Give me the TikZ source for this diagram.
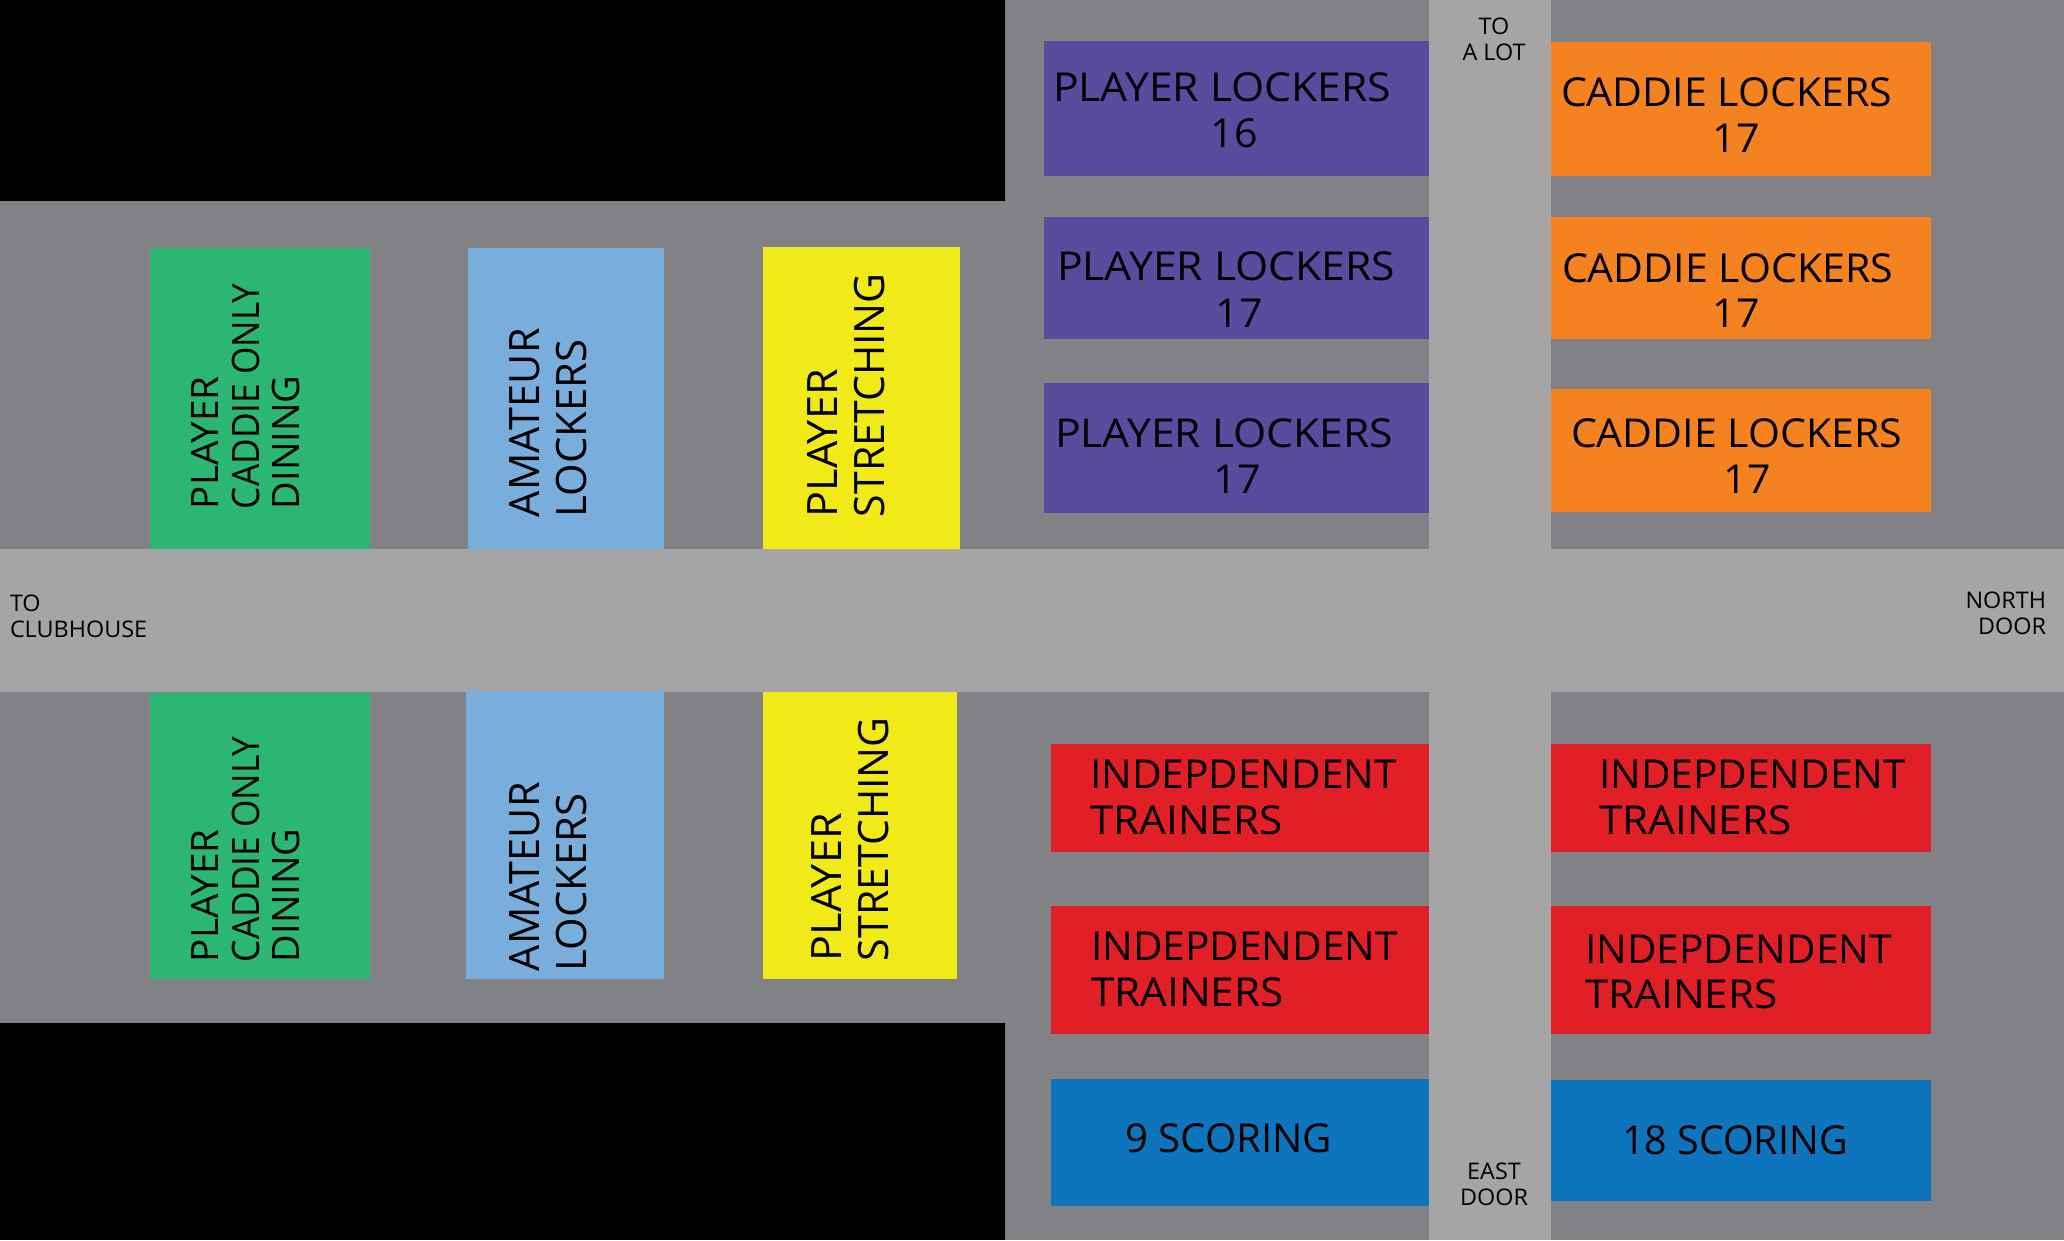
\documentclass[tikz,border=0pt]{standalone}
\usepackage{fontspec}
\setmainfont{Open Sans}
\definecolor{floorgray}{HTML}{808285}
\definecolor{roadgray}{HTML}{A5A5A6}
\definecolor{cpurple}{HTML}{5A4B9F}
\definecolor{corange}{HTML}{F58220}
\definecolor{cred}{HTML}{E01F26}
\definecolor{cblue}{HTML}{0E75BC}
\definecolor{cgreen}{HTML}{2CB673}
\definecolor{clight}{HTML}{79ADDC}
\definecolor{cyellow}{HTML}{F2EA18}
\tikzset{
  lab/.style 2 args={inner sep=0pt,outer sep=0pt,anchor=base west,text=black,
    font=\fontsize{#1}{#1}\selectfont\addfontfeature{FakeStretch=#2}},
  biglabel/.style={lab={40}{#1}},
  bigmid/.style={lab={40}{1.03},anchor=base},
  vgreen/.style={lab={38}{#1},rotate=90},
  vother/.style={lab={42}{#1},rotate=90},
  smalllabel/.style={lab={23}{1.02}},
  smallmid/.style={smalllabel,anchor=base},
  smallright/.style={smalllabel,anchor=base east},
}
\begin{document}
\begin{tikzpicture}[x=1bp,y=-1bp]
\useasboundingbox (0,0) rectangle (2064,1240);
\fill[floorgray] (0,0) rectangle (2064,1240);
\fill[black] (0,0) rectangle (1005,201);
\fill[black] (0,1023) rectangle (1005,1240);
\fill[roadgray] (0,549) rectangle (2064,691.5);
\fill[roadgray] (1429,0) rectangle (1551,1240);
% rooms
\fill[cpurple] (1044,41) rectangle (1429,176);
\fill[cpurple] (1044,217) rectangle (1429,339);
\fill[cpurple] (1044,383) rectangle (1429,512.5);
\fill[corange] (1551,42) rectangle (1931,176);
\fill[corange] (1551,217) rectangle (1931,339);
\fill[corange] (1551,389) rectangle (1931,512);
\fill[cred] (1051,744) rectangle (1429,852);
\fill[cred] (1051,906) rectangle (1429,1034);
\fill[cred] (1551,744) rectangle (1931,852);
\fill[cred] (1551,906) rectangle (1931,1034);
\fill[cblue] (1051,1079) rectangle (1429,1206);
\fill[cblue] (1551,1080) rectangle (1931,1201);
\fill[cgreen] (149.5,248) rectangle (370,549);
\fill[clight] (468,248) rectangle (663.5,549);
\fill[cyellow] (763,247) rectangle (960,549);
\fill[cgreen] (149.5,693) rectangle (370,979);
\fill[clight] (466,691) rectangle (664,979);
\fill[cyellow] (763,692) rectangle (957,979);
% horizontal labels
\node[biglabel=1.07] (p1a) at (1053,101) {PLAYER LOCKERS};
\node[bigmid] (p1b) at (1234,147) {16};
\node[biglabel=1.07] (p2a) at (1057,280) {PLAYER LOCKERS};
\node[bigmid] (p2b) at (1239,327) {17};
\node[biglabel=1.07] (p3a) at (1055,447) {PLAYER LOCKERS};
\node[bigmid] (p3b) at (1237,493) {17};
\node[biglabel=1.03] (o1a) at (1561,106) {CADDIE LOCKERS};
\node[bigmid] (o1b) at (1736,152) {17};
\node[biglabel=1.03] (o2a) at (1562,282) {CADDIE LOCKERS};
\node[bigmid] (o2b) at (1736,327.5) {17};
\node[biglabel=1.03] (o3a) at (1571,447) {CADDIE LOCKERS};
\node[bigmid] (o3b) at (1747,493) {17};
\node[biglabel=1.02] (r1a) at (1090,788) {INDEPDENDENT};
\node[biglabel=1.06] (r1b) at (1090,834) {TRAINERS};
\node[biglabel=1.02] (r2a) at (1091,960) {INDEPDENDENT};
\node[biglabel=1.06] (r2b) at (1091,1006) {TRAINERS};
\node[biglabel=1.02] (r3a) at (1599,788) {INDEPDENDENT};
\node[biglabel=1.06] (r3b) at (1599,834) {TRAINERS};
\node[biglabel=1.02] (r4a) at (1585,963) {INDEPDENDENT};
\node[biglabel=1.06] (r4b) at (1585,1008.5) {TRAINERS};
\node[biglabel=1.01] (s9) at (1125,1152.5) {9 SCORING};
\node[biglabel=0.99] (s18) at (1622,1154) {18 SCORING};
% vertical labels
\node[vgreen=1.02] (g1a) at (218,509) {PLAYER};
\node[vgreen=0.93] (g1b) at (259,509) {CADDIE ONLY};
\node[vgreen=1.0] (g1c) at (299,509) {DINING};
\node[vother=0.99] (a1a) at (539.5,517) {AMATEUR};
\node[vother=1.0] (a1b) at (586,517) {LOCKERS};
\node[vother=1.03] (y1a) at (837,517) {PLAYER};
\node[vother=0.98] (y1b) at (884,517) {STRETCHING};
\node[vgreen=1.02] (g2a) at (218,962) {PLAYER};
\node[vgreen=0.93] (g2b) at (259,962) {CADDIE ONLY};
\node[vgreen=1.0] (g2c) at (299,962) {DINING};
\node[vother=0.99] (a2a) at (539.5,971) {AMATEUR};
\node[vother=1.0] (a2b) at (586,971) {LOCKERS};
\node[vother=1.03] (y2a) at (841,961) {PLAYER};
\node[vother=0.98] (y2b) at (888,961) {STRETCHING};
% small labels
\node[smallmid] (t1) at (1494,34) {TO};
\node[smallmid] (t2) at (1494,60) {A LOT};
\node[smallmid] (e1) at (1494,1179) {EAST};
\node[smallmid] (e2) at (1494,1205) {DOOR};
\node[smalllabel] (c1) at (10,611) {TO};
\node[smalllabel] (c2) at (10,637) {CLUBHOUSE};
\node[smallright] (n1) at (2046,608) {NORTH};
\node[smallright] (n2) at (2046,634) {DOOR};
\end{tikzpicture}
\end{document}
